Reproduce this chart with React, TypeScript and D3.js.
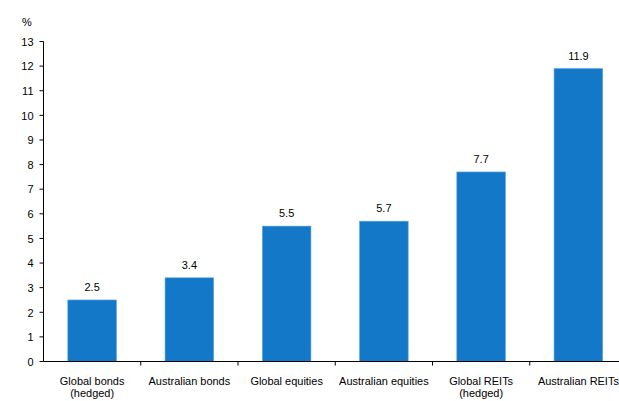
import React from "react";
import * as d3 from "d3";

const categories: string[][] = [
  ["Global bonds", "(hedged)"],
  ["Australian bonds"],
  ["Global equities"],
  ["Australian equities"],
  ["Global REITs", "(hedged)"],
  ["Australian REITs"],
];
const values: number[] = [2.5, 3.4, 5.5, 5.7, 7.7, 11.9];
const valueLabels: string[] = ["2.5", "3.4", "5.5", "5.7", "7.7", "11.9"];
const yTicks: number[] = d3.range(0, 14);

const SX = 0.93;
const FS = 11.8;

function T({ x, y, anchor = "middle", children }: { x: number; y: number; anchor?: string; children: React.ReactNode }) {
  return (
    <text transform={`translate(${x},${y}) scale(${SX},1)`} x={0} y={0} fontSize={FS} textAnchor={anchor} fill="#000">
      {children}
    </text>
  );
}

export default function App() {
  const W = 619, H = 401;
  const x0 = 43.5;
  const x = d3.scaleBand<number>().domain(d3.range(categories.length)).range([x0, 627]).paddingInner(0.5).paddingOuter(0.25);
  const y = d3.scaleLinear().domain([0, 13]).range([361.5, 41.5]);
  const font = "'Liberation Sans', Arial, sans-serif";
  const bandStep = x.step();
  const bandStart = (i: number) => x0 + i * bandStep;
  return (
    <svg width={W} height={H} style={{ position: "absolute", left: 0, top: 0, background: "#fff" }} fontFamily={font}>
      <T x={27} y={26}>%</T>
      {yTicks.map((t) => (
        <g key={t}>
          <line x1={39.5} x2={x0} y1={y(t)} y2={y(t)} stroke="#000" strokeWidth={1} />
          <T x={33.5} y={y(t) + 4.3} anchor="end">{t}</T>
        </g>
      ))}
      <line x1={x0} x2={x0} y1={y(13)} y2={y(0)} stroke="#000" strokeWidth={1} />
      {values.map((v, i) => (
        <g key={i}>
          <rect x={x(i)!} y={y(v)} width={x.bandwidth()} height={y(0) - y(v)} fill="#1478c8" stroke="#5aa7e0" strokeWidth={0.6} />
          <T x={x(i)! + x.bandwidth() / 2} y={y(v) - 9}>{valueLabels[i]}</T>
        </g>
      ))}
      <line x1={x0} x2={W} y1={y(0)} y2={y(0)} stroke="#000" strokeWidth={1} />
      {d3.range(1, categories.length).map((i) => (
        <line key={i} x1={bandStart(i)} x2={bandStart(i)} y1={y(0)} y2={y(0) + 4} stroke="#000" strokeWidth={1} />
      ))}
      {categories.map((lines, i) => (
        <g key={i}>
          {lines.map((l, j) => (
            <T key={j} x={x(i)! + x.bandwidth() / 2} y={385 + j * 11.8}>{l}</T>
          ))}
        </g>
      ))}
    </svg>
  );
}
